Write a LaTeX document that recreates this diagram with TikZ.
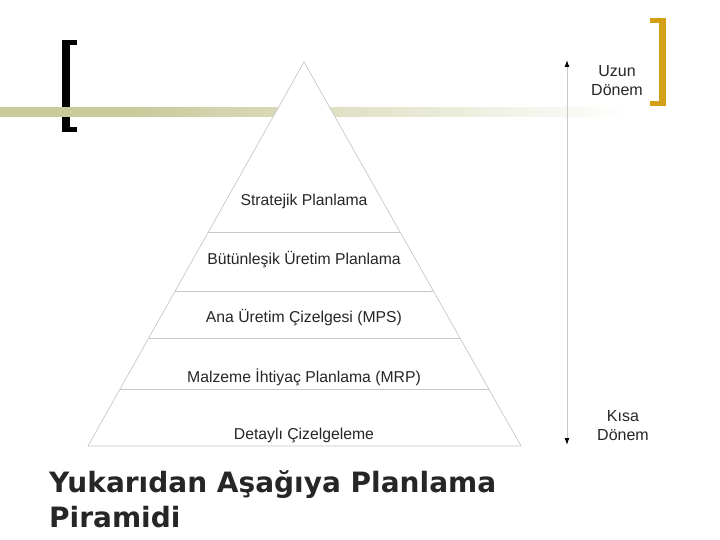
\documentclass[tikz,border=0pt]{standalone}
\usepackage{fontspec}
\setmainfont{Liberation Sans}
\newfontfamily\titlefont{DejaVu Sans}
\usetikzlibrary{arrows.meta,calc}
\definecolor{bandc}{RGB}{201,201,155}
\definecolor{goldc}{RGB}{212,160,23}
\definecolor{linegray}{RGB}{200,200,200}
\definecolor{titlec}{RGB}{38,38,38}
\pgfdeclarehorizontalshading{bandshade}{100bp}{color(0bp)=(bandc); color(35bp)=(bandc); color(75bp)=(white); color(100bp)=(white)}
\begin{document}
\begin{tikzpicture}[x=1pt,y=-1pt,
  lvl/.style={font=\fontsize{15.75}{18}\selectfont, text=black!85, inner sep=0pt},
  side/.style={font=\fontsize{16}{19}\selectfont, text=black!85, align=center, inner sep=0pt},
  ttl/.style={font=\titlefont\bfseries\fontsize{28}{34}\selectfont, text=titlec, anchor=base west, inner sep=0pt},
  pyr/.style={draw=linegray, line width=0.7pt},
  tip/.style={Latex[color=black,length=7pt,width=5pt]}]
\useasboundingbox (0,0) rectangle (720,540);
\fill[white] (0,0) rectangle (720,540);
% left bracket
\fill[black] (62,40) rectangle (77,45);
\fill[black] (62,40) rectangle (70,132);
\fill[black] (62,127) rectangle (77,132);
% band
\shade[shading=bandshade] (0,108) rectangle (630,117);
% gold bracket
\fill[goldc] (650,18) rectangle (666,23);
\fill[goldc] (659,18) rectangle (666,106);
\fill[goldc] (650,101) rectangle (666,106);
% pyramid
\coordinate (A) at (304,62);
\coordinate (BL) at (88,446);
\coordinate (BR) at (521,446);
\filldraw[pyr, fill=white] (A) -- (BR) -- (BL) -- cycle;
\foreach \yy in {232,291,338,389}{
  \draw[pyr] ($(A)!{(\yy-62)/384}!(BL)$) -- ($(A)!{(\yy-62)/384}!(BR)$);
}
\node[lvl] (l1) at (304,201) {Stratejik Planlama};
\node[lvl] (l2) at (304,260) {Bütünleşik Üretim Planlama};
\node[lvl] (l3) at (304,318) {Ana Üretim Çizelgesi (MPS)};
\node[lvl] (l4) at (304,377) {Malzeme İhtiyaç Planlama (MRP)};
\node[lvl] (l5) at (304,435) {Detaylı Çizelgeleme};
% arrow
\coordinate (atop) at (567,60);
\coordinate (abot) at (567,445);
\draw[draw=linegray, line width=1pt, {Latex[color=black,length=7pt,width=5pt]}-{Latex[color=black,length=7pt,width=5pt]}] (atop) -- (abot);
\node[side] (uzun) at (617,81) {Uzun\\Dönem};
\node[side] (kisa) at (623,426) {Kısa\\Dönem};
% title
\node[ttl] (t1) at (49,492) {Yukarıdan Aşağıya Planlama};
\node[ttl] (t2) at (49,527) {Piramidi};
\end{tikzpicture}
\end{document}
